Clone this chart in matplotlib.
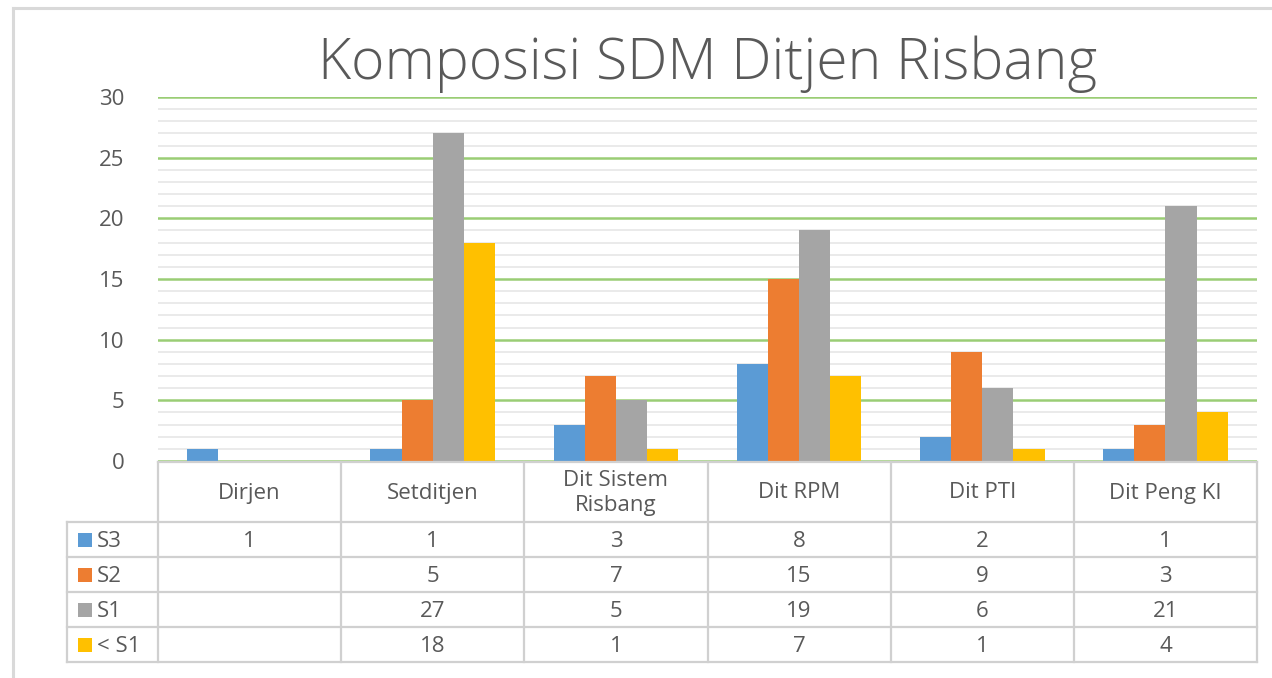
import matplotlib
matplotlib.use("Agg")
import matplotlib.pyplot as plt
from matplotlib.patches import Rectangle
from matplotlib.lines import Line2D
from matplotlib import font_manager
import numpy as np

categories = ["Dirjen", "Setditjen", "Dit Sistem\nRisbang", "Dit RPM", "Dit PTI", "Dit Peng KI"]
series_names = ["S3", "S2", "S1", "< S1"]
s3 = [1, 1, 3, 8, 2, 1]
s2 = [None, 5, 7, 15, 9, 3]
s1 = [None, 27, 5, 19, 6, 21]
lt_s1 = [None, 18, 1, 7, 1, 4]
series = [s3, s2, s1, lt_s1]
colors = ["#5B9BD5", "#ED7D31", "#A5A5A5", "#FFC000"]
title = "Komposisi SDM Ditjen Risbang"

plt.rcParams['font.family'] = ['Open Sans', 'DejaVu Sans']
TXT = "#595959"

best = None
for pref in ("Open Sans", "Noto Sans", "Lato", "Roboto"):
    for f in font_manager.fontManager.ttflist:
        if f.name != pref or f.style != "normal" or f.stretch != "normal":
            continue
        if "ondensed" in f.fname or "arrow" in f.fname:
            continue
        w = f.weight if isinstance(f.weight, int) else 400
        if 250 <= w <= 350:
            best = f
            break
    if best is not None:
        break
light_font = best

W, H = 1272, 678
fig = plt.figure(figsize=(W / 100, H / 100), dpi=100)

def fx(px):
    return px / W

def fy(py):
    return 1 - py / H

fig.add_artist(Line2D([fx(13), fx(13)], [fy(8), 0], color="#D9D9D9", lw=2.2, transform=fig.transFigure))
fig.add_artist(Line2D([fx(13), 1], [fy(8), fy(8)], color="#D9D9D9", lw=2.2, transform=fig.transFigure))

L, R = 158, 1257
T, B = 97, 461
ax = fig.add_axes([fx(L), fy(B), fx(R) - fx(L), fy(T) - fy(B)])
ax.set_xlim(0, len(categories))
ax.set_ylim(0, 30)
for sp in ax.spines.values():
    sp.set_visible(False)
ax.set_yticks(np.arange(0, 31, 5))
ax.set_yticks(np.arange(0, 31, 1), minor=True)
ax.tick_params(axis='y', which='both', length=0, pad=24, labelsize=16, labelcolor=TXT)
ax.tick_params(axis='x', which='both', length=0, labelbottom=False)
ax.set_xticks([])
ax.grid(axis='y', which='minor', color="#E6E6E6", lw=1.2)
ax.grid(axis='y', which='major', color="#9ACD75", lw=1.8)
ax.set_axisbelow(True)

bw = 0.17
x = np.arange(len(categories)) + 0.5
for i, (vals, c) in enumerate(zip(series, colors)):
    v = [0 if a is None else a for a in vals]
    ax.bar(x + (i - 1.5) * bw, v, width=bw, color=c, zorder=3)

if light_font is not None:
    fig.text(fx((L + R) / 2), fy(64), title, ha='center', va='center',
             color=TXT, fontproperties=font_manager.FontProperties(fname=light_font.fname, size=41))
else:
    fig.text(fx((L + R) / 2), fy(64), title, ha='center', va='center', fontsize=38, color=TXT)

TL = 67
TT, TB = 462, 662
tax = fig.add_axes([fx(TL), fy(TB), fx(R) - fx(TL), fy(TT) - fy(TB)])
ncat = len(categories)
xl = -(L - TL) * ncat / (R - L)
tax.set_xlim(xl, ncat)
tax.set_ylim(TB - TT, 0)
tax.axis('off')
lc = "#D0D0D0"
lw = 1.6
hdr = 60
rh = (TB - TT - hdr) / 4
tax.plot([0, ncat], [0, 0], color=lc, lw=lw, clip_on=False)
for r in range(5):
    yy = hdr + r * rh
    tax.plot([xl, ncat], [yy, yy], color=lc, lw=lw, clip_on=False)
for k in range(ncat + 1):
    tax.plot([k, k], [0, TB - TT], color=lc, lw=lw, clip_on=False)
tax.plot([xl, xl], [hdr, TB - TT], color=lc, lw=lw, clip_on=False)

px2x = ncat / (R - L)
for k, cat in enumerate(categories):
    tax.text(k + 0.5, hdr / 2 + 1, cat, ha='center', va='center', fontsize=16, color=TXT, linespacing=1.2)

for r, (name, vals, c) in enumerate(zip(series_names, series, colors)):
    yc = hdr + (r + 0.5) * rh
    tax.add_patch(Rectangle((xl + 11 * px2x, yc - 7), 14 * px2x, 14, color=c, clip_on=False, lw=0))
    tax.text(xl + 30 * px2x, yc + 2, name, ha='left', va='center', fontsize=16, color=TXT)
    for k, v in enumerate(vals):
        if v is not None:
            tax.text(k + 0.5, yc + 2, str(v), ha='center', va='center', fontsize=16, color=TXT)

fig.savefig("out.png", dpi=100, facecolor="white")
